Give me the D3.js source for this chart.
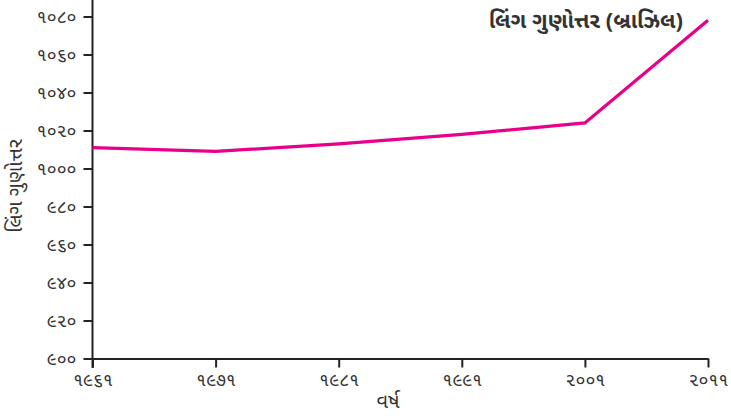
<!DOCTYPE html>
<html><head><meta charset="utf-8">
<script src="https://cdn.jsdelivr.net/npm/d3@7"></script>
<style>body{margin:0;background:#fff}svg{display:block}text{font-family:"Noto Sans Gujarati","Noto Sans","Lohit Gujarati",sans-serif}</style>
</head><body><svg id="c" width="731" height="418"></svg>
<script>
const years = [1961, 1971, 1981, 1991, 2001, 2011];
const values = [1011, 1009, 1013, 1018, 1024, 1078];
const yTicks = [900, 920, 940, 960, 980, 1000, 1020, 1040, 1060, 1080];
const title = "લિંગ ગુણોત્તર (બ્રાઝિલ)";
const yLabel = "લિંગ ગુણોત્તર";
const xLabel = "વર્ષ";
const guj = n => String(n).replace(/[0-9]/g, d => "૦૧૨૩૪૫૬૭૮૯"[+d]);

const svg = d3.select("#c");
const x = d3.scaleLinear().domain([1961, 2011]).range([92.5, 708]);
const y = d3.scaleLinear().domain([900, 1080]).range([358.5, 16.5]);

const xa = svg.append("g").attr("transform", "translate(0,358.5)")
  .call(d3.axisBottom(x).tickValues(years).tickFormat(guj).tickSize(9).tickPadding(6).tickSizeOuter(0));
const ya = svg.append("g").attr("transform", "translate(92.5,0)")
  .call(d3.axisLeft(y).tickValues(yTicks).tickFormat(guj).tickSize(9).tickPadding(7).tickSizeOuter(0));
ya.select(".domain").attr("d", "M0,0V368");
[xa, ya].forEach(g => {
  g.selectAll("path,line").attr("stroke", "#222").attr("stroke-width", 2);
  g.selectAll("text").attr("fill", "#333").style("font-size", "18px");
});

svg.append("path").datum(years.map((d, i) => [d, values[i]]))
  .attr("fill", "none").attr("stroke", "#e8008a").attr("stroke-width", 3.2)
  .attr("d", d3.line().x(d => x(d[0])).y(d => y(d[1])));

svg.append("text").attr("x", 683).attr("y", 28).attr("text-anchor", "end")
  .attr("fill", "#333").style("font-size", "22px").style("font-weight", "bold").text(title);
svg.append("text").attr("transform", "translate(22,186) rotate(-90)").attr("text-anchor", "middle")
  .attr("fill", "#333").style("font-size", "20px").text(yLabel);
svg.append("text").attr("x", 388).attr("y", 408).attr("text-anchor", "middle")
  .attr("fill", "#333").style("font-size", "20px").text(xLabel);
</script></body></html>
